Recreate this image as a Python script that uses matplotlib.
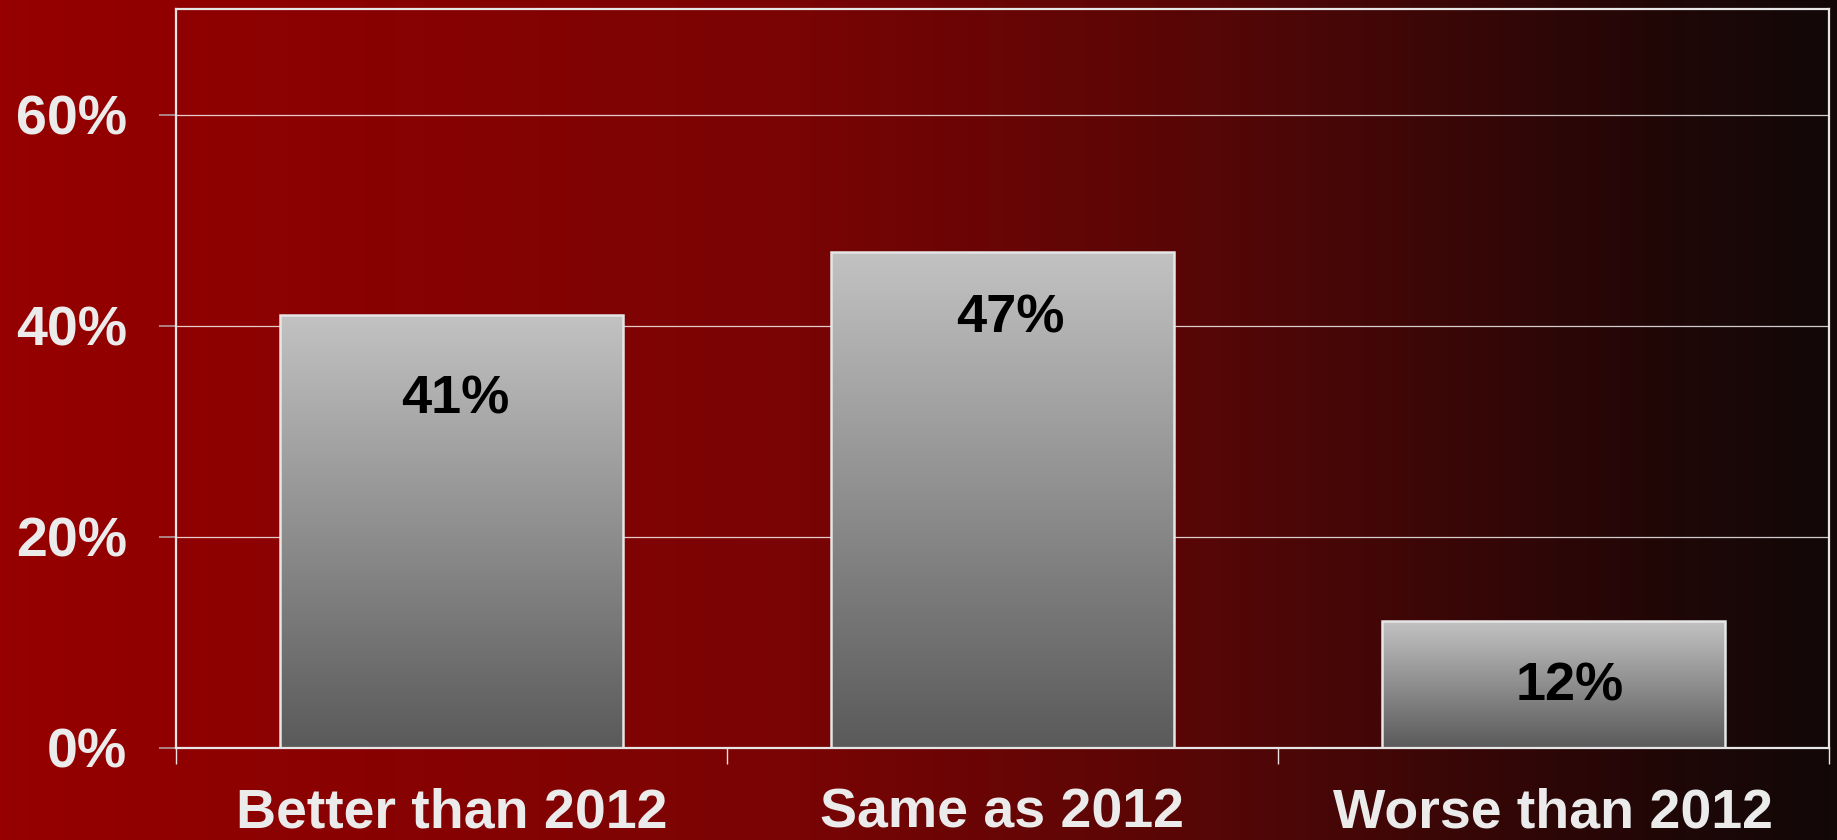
"""Bar chart: outlook compared with 2012."""

import numpy as np
import matplotlib
matplotlib.use('Agg')
import matplotlib.pyplot as plt
from matplotlib.colors import LinearSegmentedColormap

plt.rcParams['font.family'] = ['Liberation Sans', 'DejaVu Sans']

# data
categories = ['Better than 2012', 'Same as 2012', 'Worse than 2012']
values = [41, 47, 12]
yticks = [0, 20, 40, 60]
ytick_labels = ['0%', '20%', '40%', '60%']

# label nudges (points) so the numbers sit where the original put them
label_offsets = [(3, -61), (6, -48), (12, -47)]

TEXT = '#ebebeb'
EDGE = '#e6e6e6'

# background: red on the left fading to near black on the right
bg_cmap = LinearSegmentedColormap.from_list('bg', [
    (0.00, (150 / 255, 0, 0)),
    (0.43, (122 / 255, 4 / 255, 4 / 255)),
    (0.65, (88 / 255, 6 / 255, 6 / 255)),
    (0.92, (30 / 255, 7 / 255, 7 / 255)),
    (1.00, (18 / 255, 8 / 255, 8 / 255)),
])
# bars: light grey at top, dark grey at bottom
bar_cmap = LinearSegmentedColormap.from_list('bar', ['#5a5a5a', '#c2c2c2'])

fig = plt.figure(figsize=(18.37, 8.40), dpi=100)

bg = fig.add_axes([0, 0, 1, 1], zorder=-1)
bg.imshow(np.linspace(0, 1, 512).reshape(1, -1), cmap=bg_cmap,
          aspect='auto', extent=[0, 1, 0, 1])
bg.axis('off')

ax = fig.add_axes([0.0958, 0.1101, 0.8998, 0.8786])
ax.set_facecolor('none')

x = np.arange(len(categories))
width = 0.624
bars = ax.bar(x, values, width=width, facecolor='none', edgecolor=EDGE,
              linewidth=1.8, zorder=3)

grad = np.linspace(0, 1, 256).reshape(-1, 1)
for rect in bars:
    x0, h = rect.get_x(), rect.get_height()
    im = ax.imshow(grad, cmap=bar_cmap, origin='lower', aspect='auto',
                   extent=[x0, x0 + rect.get_width(), 0, h], zorder=2)
    im.set_clip_path(rect)

for xi, v, (dx, dy) in zip(x, values, label_offsets):
    ax.annotate(f'{v}%', xy=(xi, v), xytext=(dx, dy),
                textcoords='offset points', ha='center', va='center',
                fontsize=39, fontweight='bold', color='black', zorder=4)

ax.set_xlim(-0.5, len(categories) - 0.5)
ax.set_ylim(0, 70)

# y axis
ax.set_yticks(yticks)
ax.set_yticklabels(ytick_labels)
ax.tick_params(axis='y', length=12, width=1.2, color='#b09a9a', pad=23,
               labelsize=40, labelcolor=TEXT)
for lbl in ax.get_yticklabels():
    lbl.set_fontweight('bold')
ax.yaxis.grid(True, color='white', alpha=0.8, linewidth=0.9)
ax.set_axisbelow(True)

# x axis: boundary ticks as major, category names on minor
ax.set_xticks(np.arange(-0.5, len(categories)), labels=[])
ax.set_xticks(x, labels=categories, minor=True)
ax.tick_params(axis='x', which='major', length=11.5, width=1.0,
               color='#f0e0e0')
ax.tick_params(axis='x', which='minor', length=0, pad=29, labelsize=40,
               labelcolor=TEXT)
for lbl in ax.get_xticklabels(minor=True):
    lbl.set_fontweight('bold')

for side in ['left', 'top', 'right', 'bottom']:
    ax.spines[side].set_color(EDGE)
    ax.spines[side].set_linewidth(1.6)

fig.savefig('out.png', dpi=100)
